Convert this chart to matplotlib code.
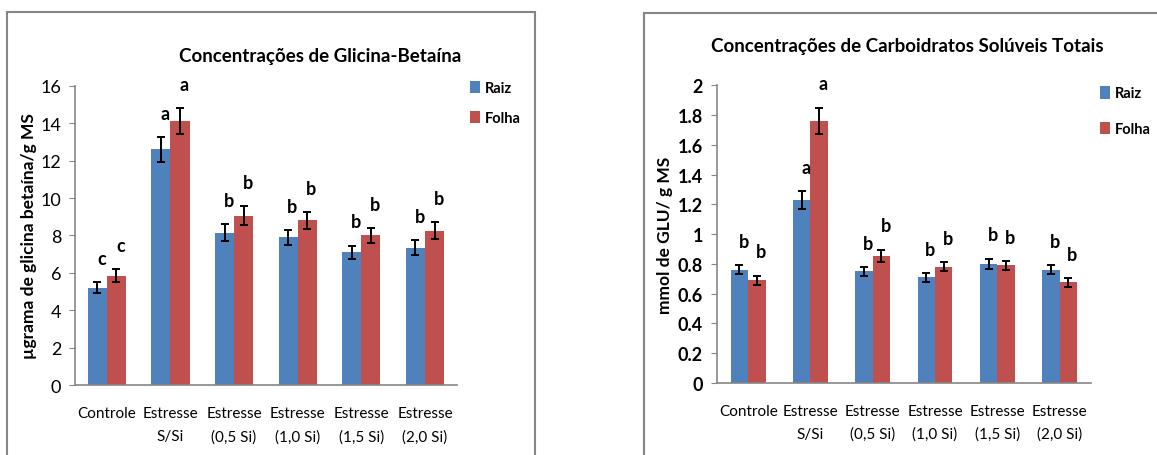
import matplotlib
matplotlib.use("Agg")
import matplotlib.pyplot as plt
import numpy as np
from matplotlib.patches import Rectangle

plt.rcParams['font.family'] = ['Lato', 'DejaVu Sans']

#dados
categorias = ["Controle", "Estresse\nS/Si", "Estresse\n(0,5 Si)", "Estresse\n(1,0 Si)", "Estresse\n(1,5 Si)", "Estresse\n(2,0 Si)"]

gb_raiz = [5.2, 12.6, 8.15, 7.9, 7.1, 7.35]
gb_folha = [5.85, 14.1, 9.05, 8.8, 8.0, 8.25]
gb_raiz_err = [0.3, 0.65, 0.45, 0.4, 0.35, 0.4]
gb_folha_err = [0.35, 0.7, 0.5, 0.45, 0.4, 0.45]
gb_raiz_letras = ["c", "a", "b", "b", "b", "b"]
gb_folha_letras = ["c", "a", "b", "b", "b", "b"]

cs_raiz = [0.76, 1.23, 0.75, 0.71, 0.80, 0.76]
cs_folha = [0.69, 1.76, 0.855, 0.78, 0.79, 0.675]
cs_raiz_err = [0.03, 0.06, 0.03, 0.03, 0.035, 0.03]
cs_folha_err = [0.03, 0.09, 0.04, 0.03, 0.03, 0.03]
cs_raiz_letras = ["b", "a", "b", "b", "b", "b"]
cs_folha_letras = ["b", "a", "b", "b", "b", "b"]

azul = "#4F81BD"
vermelho = "#C0504D"
cinza = "#868686"


def grafico(ax, raiz, folha, raiz_err, folha_err, l_raiz, l_folha, ymax, passo, ylabel, largura, peso_y):
    x = np.arange(len(categorias))
    ax.bar(x - largura/2, raiz, largura, color=azul, label="Raiz", zorder=2)
    ax.bar(x + largura/2, folha, largura, color=vermelho, label="Folha", zorder=2)
    ax.errorbar(x - largura/2, raiz, yerr=raiz_err, fmt="none", ecolor="black", elinewidth=1.4, capsize=3, capthick=1.4, zorder=3)
    ax.errorbar(x + largura/2, folha, yerr=folha_err, fmt="none", ecolor="black", elinewidth=1.4, capsize=3, capthick=1.4, zorder=3)
    #letras acima das barras
    for i in range(len(x)):
        ax.annotate(l_raiz[i], (x[i] - largura/2, raiz[i] + raiz_err[i]), xytext=(3, 11), textcoords="offset points",
                    ha="center", va="bottom", fontsize=13, fontweight="bold")
        ax.annotate(l_folha[i], (x[i] + largura/2, folha[i] + folha_err[i]), xytext=(3, 11), textcoords="offset points",
                    ha="center", va="bottom", fontsize=13, fontweight="bold")
    ax.set_xlim(-0.5, len(x) - 0.5)
    ax.set_ylim(0, ymax)
    ticks = np.arange(0, ymax + passo/2, passo)
    ax.set_yticks(ticks)
    ax.set_yticklabels([f"{round(v, 1):g}" for v in ticks], fontsize=13, fontweight=peso_y)
    ax.set_xticks(x)
    ax.set_xticklabels(categorias, fontsize=11, linespacing=1.8)
    ax.tick_params(axis="x", length=0, pad=15)
    ax.tick_params(axis="y", length=4, color=cinza, direction="out", pad=6)
    for s in ["top", "right"]:
        ax.spines[s].set_visible(False)
    for s in ["left", "bottom"]:
        ax.spines[s].set_color(cinza)
        ax.spines[s].set_linewidth(1.2)
    ax.set_ylabel(ylabel, fontsize=12.5, fontweight="bold")


fig = plt.figure(figsize=(11.57, 4.56), dpi=100)

#molduras dos dois graficos
fig.patches.append(Rectangle((7/1157, -0.1), 528/1157, 1.1 - 13/456, transform=fig.transFigure,
                             fill=False, edgecolor=cinza, linewidth=1.5))
fig.patches.append(Rectangle((644/1157, -0.1), 0.5, 1.1 - 14/456, transform=fig.transFigure,
                             fill=False, edgecolor=cinza, linewidth=1.5))

ax1 = fig.add_axes([0.0648, 0.1535, 0.330, 0.656])
grafico(ax1, gb_raiz, gb_folha, gb_raiz_err, gb_folha_err, gb_raiz_letras, gb_folha_letras,
        16, 2, "µgrama de glicina betaína/g MS", 0.30, "normal")
ax1.yaxis.set_label_coords(-0.10, 0.5)
fig.text(0.2766, 0.877, "Concentrações de Glicina-Betaína", ha="center", va="center", fontsize=13.5, fontweight="bold")
ax1.legend(loc="upper left", bbox_to_anchor=(1.0, 1.06), frameon=False, handlelength=0.7,
           handleheight=0.9, handletextpad=0.3, labelspacing=1.1, prop={"weight": "bold", "size": 10.5})

ax2 = fig.add_axes([0.6197, 0.158, 0.323, 0.653])
grafico(ax2, cs_raiz, cs_folha, cs_raiz_err, cs_folha_err, cs_raiz_letras, cs_folha_letras,
        2, 0.2, "mmol de GLU/ g MS", 0.28, "bold")
ax2.yaxis.set_label_coords(-0.118, 0.5)
fig.text(0.784, 0.899, "Concentrações de Carboidratos Solúveis Totais", ha="center", va="center", fontsize=13.5, fontweight="bold")
ax2.legend(loc="upper left", bbox_to_anchor=(0.99, 1.04), frameon=False, handlelength=0.7,
           handleheight=0.9, handletextpad=0.3, labelspacing=1.45, prop={"weight": "bold", "size": 10.5})

fig.savefig("out.png", dpi=100)
